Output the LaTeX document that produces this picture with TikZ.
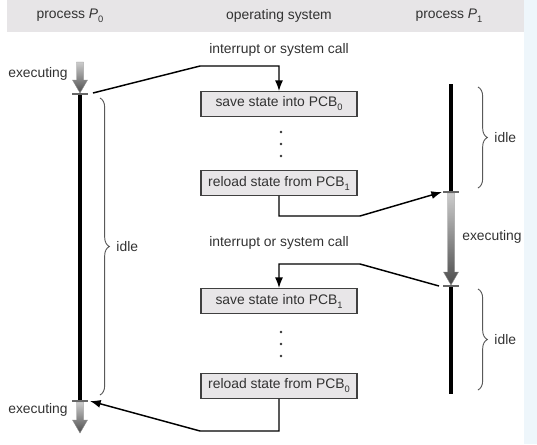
\documentclass[tikz,border=0pt]{standalone}
\usepackage{fontspec}
\setmainfont{Liberation Sans}
\usetikzlibrary{arrows.meta,decorations.pathreplacing,positioning}
\definecolor{headgray}{RGB}{231,229,231}
\definecolor{boxgray}{RGB}{232,230,232}
\definecolor{edgeblue}{RGB}{238,246,251}
\definecolor{txtgray}{RGB}{50,50,50}
\newcommand{\lowsub}[1]{\raisebox{-0.55ex}{\fontsize{7}{7}\selectfont #1}}
\tikzstyle{block} = [rectangle, draw=black!75, line width=0.9pt, fill=boxgray,
    minimum width=117pt, minimum height=18.5pt, inner sep=1pt, text=txtgray]
\tikzstyle{line} = [draw, line width=1.1pt, -{Latex[length=8pt,width=6pt]}]
\tikzstyle{txt} = [text=txtgray, inner sep=1pt]
\tikzstyle{proc} = [draw, line width=2.3pt]
\tikzstyle{tick} = [draw, black!60, line width=0.8pt]
\tikzstyle{idlebrace} = [draw, black!65, line width=0.7pt, decorate,
    decoration={brace, amplitude=7pt}]
\tikzstyle{run} = [top color=black!20, bottom color=black!70, draw=black!45, line width=0.3pt]

\begin{document}
\begin{tikzpicture}[x=0.75pt, y=-0.75pt, font=\fontsize{10.4}{12}\selectfont]
	\useasboundingbox (0,0) rectangle (537,444);
	\fill[edgeblue] (524,0) rectangle (537,444);
	\fill[headgray] (7,0) rectangle (524,32);

	\node [txt] (head0) at (70,16) {process \textit{P}\lowsub{0}};
	\node [txt] (heados) at (279,16) {operating system};
	\node [txt] (head1) at (449,16) {process \textit{P}\lowsub{1}};

	% operating system column
	\node [block] (save0) at (279,104) {save state into PCB\lowsub{0}};
	\node [block] (reload1) at (279,183) {reload state from PCB\lowsub{1}};
	\node [block] (save1) at (279,301) {save state into PCB\lowsub{1}};
	\node [block] (reload0) at (279,386) {reload state from PCB\lowsub{0}};
	\node [txt] (int0) at (279,50) {interrupt or system call};
	\node [txt] (int1) at (279,243) {interrupt or system call};

	\foreach \y in {132,144,156,332,344,356}
		\fill[black!80] (281,\y) circle (1pt);

	% processes
	\coordinate (t0a) at (80,94);
	\coordinate (t0b) at (80,401);
	\coordinate (t1a) at (451,192);
	\coordinate (t1b) at (451,286);

	\draw[proc] (t0a) -- (t0b);
	\draw[proc] (451,84) -- (t1a);
	\draw[proc] (t1b) -- (451,394);

	\foreach \x/\ya/\yb in {80/62/93, 80/402/433, 451/193/285}
		\shade[run] ({\x-3.5},\ya) -- ({\x+3.5},\ya) -- ({\x+3.5},\yb-13) -- ({\x+7.5},\yb-13)
			-- (\x,\yb) -- ({\x-7.5},\yb-13) -- ({\x-3.5},\yb-13) -- cycle;

	\foreach \c in {t0a,t0b,t1a,t1b}
		\draw[tick] ([xshift=-6pt]\c) -- ([xshift=6pt]\c);

	\node [txt] (exec0) at (38,74) {executing};
	\node [txt] (exec0b) at (38,410) {executing};
	\node [txt] (exec1) at (492,237) {executing};

	\draw[idlebrace] (100,98) -- node[txt, right=11pt] (idle0) {idle} (100,395);
	\draw[idlebrace] (478,87) -- node[txt, right=11pt] (idle1a) {idle} (478,188);
	\draw[idlebrace] (478,289) -- node[txt, right=11pt] (idle1b) {idle} (478,390);

	% switches
	\coordinate (p0out) at (93,93);
	\coordinate (p0in) at (90,401);
	\coordinate (p1in) at (442,192);
	\coordinate (p1out) at (439,286);

	\path [line] (p0out) -- (200,66) -| (save0.north);
	\path [line] (reload1.south) |- (360,216) -- (p1in);
	\path [line] (p1out) -- (360,264) -| (save1.north);
	\path [line] (reload0.south) |- (200,431) -- (p0in);
\end{tikzpicture}
\end{document}
